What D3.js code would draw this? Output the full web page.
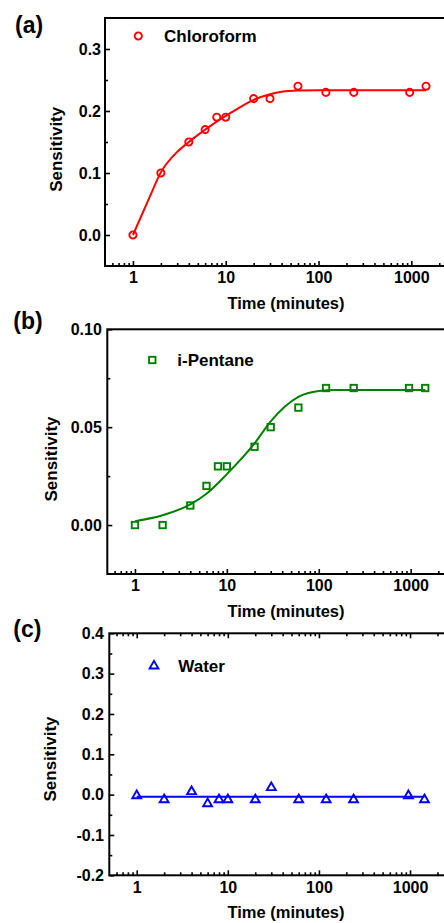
<!DOCTYPE html>
<html>
<head>
<meta charset="utf-8">
<script src="https://cdn.jsdelivr.net/npm/d3@7"></script>
<style>
  body { margin: 0; background: #fff; }
  svg { display: block; font-family: "Liberation Sans", Arial, sans-serif; font-weight: bold; }
</style>
</head>
<body>
<svg width="444" height="923"></svg>
<script>
// measured sampling times (minutes)
const times = [1, 2, 4, 6, 8, 10, 20, 30, 60, 120, 240, 960, 1440];

const chloroform = [0, 0.10, 0.15, 0.17, 0.19, 0.19, 0.22, 0.22, 0.24, 0.23, 0.23, 0.23, 0.24];
const pentane = [0, 0, 0.01, 0.02, 0.03, 0.03, 0.04, 0.05, 0.06, 0.07, 0.07, 0.07, 0.07];
const water = [0, -0.01, 0.01, -0.02, -0.01, -0.01, -0.01, 0.02, -0.01, -0.01, -0.01, 0, -0.01];

// fitted curves
const chloroFitT = [1, 1.5, 2, 3, 4, 6, 8, 10, 15, 20, 30, 40, 60, 100, 1440];
const chloroFitY = [0, 0.060, 0.101, 0.134, 0.150, 0.170, 0.183, 0.192, 0.208, 0.218, 0.227, 0.231, 0.233, 0.2335, 0.2335];
const pentFitT = [1, 2, 4, 6, 10, 20, 30, 60, 100, 150, 1440];
const pentFitY = [0.002, 0.005, 0.0106, 0.016, 0.026, 0.0417, 0.053, 0.0655, 0.0685, 0.069, 0.069];
const waterFitT = [1, 1440];
const waterFitY = [-0.005, -0.005];

const xMajor = [1, 10, 100, 1000];
const xMinor = [].concat(...[0.1, 1, 10, 100, 1000].map(b => d3.range(2, 10).map(k => k * b)))
  .filter(v => v > 0.5 && v < 3000);

const svg = d3.select('svg');

const panels = [
  {
    label: '(a)', name: 'Chloroform', color: '#ff0000', shape: 'circle',
    ys: chloroform, fitT: chloroFitT, fitY: chloroFitY,
    left: 105, top: 18, bottom: 266, decade: 92.8,
    yDomain: [-0.05, 0.35], yTicks: [0, 0.1, 0.2, 0.3], yMinor: [0.05, 0.15, 0.25],
    fmt: d => d.toFixed(1), yPad: 4, topTicks: false,
    labelPos: [15, 32.5], ylabPos: [61.5, 149.3], legMark: [138.3, 36], legText: [164, 42.3]
  },
  {
    label: '(b)', name: 'i-Pentane', color: '#008000', shape: 'square',
    ys: pentane, fitT: pentFitT, fitY: pentFitY,
    left: 107.3, top: 329.3, bottom: 574, decade: 91.9,
    yDomain: [-0.025, 0.10], yTicks: [0, 0.05, 0.10], yMinor: [0.025, 0.075],
    fmt: d => d.toFixed(2), yPad: 5.5, topTicks: false,
    labelPos: [13.3, 328.5], ylabPos: [57.3, 459], legMark: [152.3, 360], legText: [177.3, 365.7]
  },
  {
    label: '(c)', name: 'Water', color: '#0000ff', shape: 'triangle',
    ys: water, fitT: waterFitT, fitY: waterFitY,
    left: 109.3, top: 633.3, bottom: 875.3, decade: 91.1,
    yDomain: [-0.2, 0.4], yTicks: [-0.2, -0.1, 0, 0.1, 0.2, 0.3, 0.4],
    yMinor: [-0.15, -0.05, 0.05, 0.15, 0.25, 0.35],
    fmt: d => d.toFixed(1), yPad: 5.3, topTicks: true,
    labelPos: [13.3, 637], ylabPos: [55.7, 759], legMark: [154, 665], legText: [178.3, 672]
  }
];

const marker = (sel, shape, color) => {
  if (shape === 'circle') {
    sel.append('circle').attr('r', 3.6);
  } else if (shape === 'square') {
    sel.append('rect').attr('x', -3.2).attr('y', -3.2).attr('width', 6.4).attr('height', 6.4);
  } else {
    sel.append('path').attr('d', d3.symbol(d3.symbolTriangle, 34)).attr('transform', 'translate(0,1)');
  }
  sel.selectAll('circle,rect,path')
    .attr('fill', 'none')
    .attr('stroke', color)
    .attr('stroke-width', 1.9);
};

const styleAxis = g => {
  g.select('.domain').remove();
  g.attr('font-family', null).attr('font-size', 16);
  g.selectAll('line').attr('stroke', '#000').attr('stroke-width', 1.6);
  g.selectAll('text').attr('fill', '#000');
};

panels.forEach(p => {
  const right = p.left + Math.log10(3000 / 0.5) * p.decade;
  const x = d3.scaleLog().domain([0.5, 3000]).range([p.left, right]);
  const y = d3.scaleLinear().domain(p.yDomain).range([p.bottom, p.top]);
  const g = svg.append('g');

  // bottom axis, inward ticks
  g.append('g')
    .attr('transform', `translate(0,${p.bottom})`)
    .call(d3.axisBottom(x).tickValues(xMajor).tickFormat(d3.format('d')).tickSize(-5).tickPadding(6))
    .call(styleAxis);
  g.append('g')
    .attr('transform', `translate(0,${p.bottom})`)
    .call(d3.axisBottom(x).tickValues(xMinor).tickFormat('').tickSize(-3))
    .call(styleAxis);

  if (p.topTicks) {
    g.append('g')
      .attr('transform', `translate(0,${p.top})`)
      .call(d3.axisTop(x).tickValues(xMajor).tickFormat('').tickSize(-5))
      .call(styleAxis);
    g.append('g')
      .attr('transform', `translate(0,${p.top})`)
      .call(d3.axisTop(x).tickValues(xMinor).tickFormat('').tickSize(-3))
      .call(styleAxis);
  }

  // left axis
  g.append('g')
    .attr('transform', `translate(${p.left},0)`)
    .call(d3.axisLeft(y).tickValues(p.yTicks).tickFormat(p.fmt).tickSize(-5).tickPadding(p.yPad))
    .call(styleAxis);
  g.append('g')
    .attr('transform', `translate(${p.left},0)`)
    .call(d3.axisLeft(y).tickValues(p.yMinor).tickFormat('').tickSize(-3))
    .call(styleAxis);

  // frame
  g.append('rect')
    .attr('x', p.left)
    .attr('y', p.top)
    .attr('width', right - p.left)
    .attr('height', p.bottom - p.top)
    .attr('fill', 'none')
    .attr('stroke', '#000')
    .attr('stroke-width', 2);

  // fit curve
  const line = d3.line()
    .x(d => x(d[0]))
    .y(d => y(d[1]))
    .curve(d3.curveMonotoneX);
  g.append('path')
    .datum(p.fitT.map((t, i) => [t, p.fitY[i]]))
    .attr('d', line)
    .attr('fill', 'none')
    .attr('stroke', p.color)
    .attr('stroke-width', 2);

  // data points
  g.selectAll('.pt').data(times.map((t, i) => [t, p.ys[i]]))
    .enter().append('g')
    .attr('class', 'pt')
    .attr('transform', d => `translate(${x(d[0])},${y(d[1])})`)
    .each(function () { marker(d3.select(this), p.shape, p.color); });

  // legend
  const leg = g.append('g').attr('transform', `translate(${p.legMark[0]},${p.legMark[1]})`);
  marker(leg, p.shape, p.color);
  g.append('text')
    .attr('x', p.legText[0])
    .attr('y', p.legText[1])
    .attr('font-size', 17)
    .text(p.name);

  // axis titles
  g.append('text')
    .attr('x', 286)
    .attr('y', p.bottom + 43)
    .attr('text-anchor', 'middle')
    .attr('font-size', 16.5)
    .text('Time (minutes)');
  g.append('text')
    .attr('transform', `translate(${p.ylabPos[0]},${p.ylabPos[1]}) rotate(-90)`)
    .attr('text-anchor', 'middle')
    .attr('font-size', 17)
    .text('Sensitivity');

  // panel label
  g.append('text')
    .attr('x', p.labelPos[0])
    .attr('y', p.labelPos[1])
    .attr('font-size', 23)
    .text(p.label);
});
</script>
</body>
</html>
